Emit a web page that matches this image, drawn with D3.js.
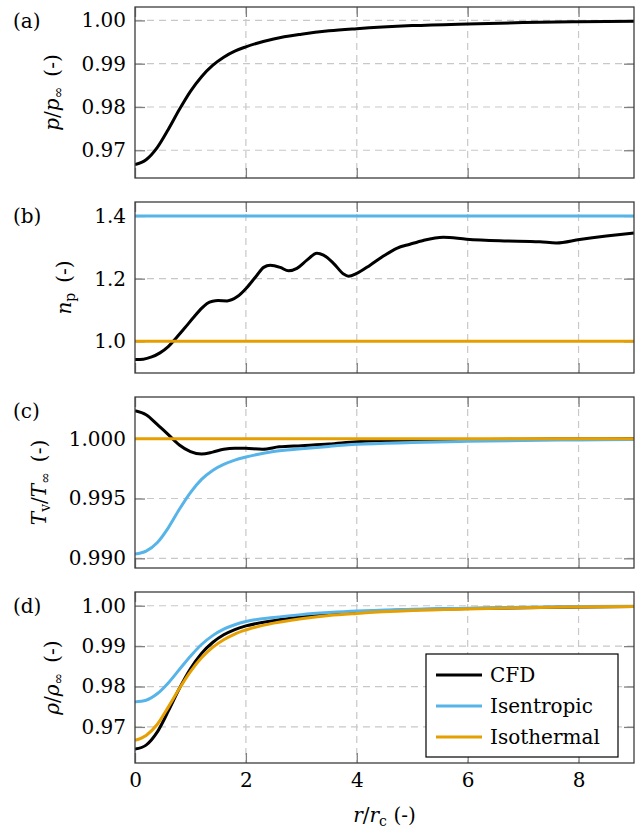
<!DOCTYPE html>
<html>
<head>
<meta charset="utf-8">
<script src="https://cdn.jsdelivr.net/npm/d3@7"></script>
<style>
  body { margin: 0; background: #fff; }
</style>
</head>
<body>
<svg id="chart" width="636" height="830"></svg>
<script>
// Radial positions r/r_c shared by the smooth profiles
const rProfile = [0, 0.2, 0.4, 0.6, 0.8, 1.0, 1.2, 1.4, 1.6, 1.8, 2.0, 2.5, 3.0, 3.5, 4.0, 5.0, 6.0, 7.0, 8.0, 9.0];
const rEnds = [0, 9];

// (a) pressure ratio
const pressureCfd = [0.9667, 0.9678, 0.9706, 0.9748, 0.9794, 0.9836, 0.9870, 0.9896, 0.9915, 0.9929, 0.9939, 0.9957, 0.9968, 0.9976, 0.9981, 0.9988, 0.9992, 0.9995, 0.9997, 0.9998];

// (b) polytropic index
const rPoly = [0, 0.15, 0.3, 0.45, 0.6, 0.75, 0.9, 1.05, 1.2, 1.3, 1.4, 1.5, 1.66, 1.84, 2.02, 2.2, 2.32, 2.44, 2.62, 2.77, 2.92, 3.1, 3.28, 3.4, 3.58, 3.76, 3.85, 4.0, 4.24, 4.48, 4.72, 4.96, 5.2, 5.56, 5.98, 6.58, 7.3, 7.6, 8.02, 8.5, 9.0];
const polyCfd = [0.942, 0.943, 0.950, 0.963, 0.983, 1.012, 1.043, 1.075, 1.105, 1.121, 1.128, 1.130, 1.129, 1.142, 1.172, 1.211, 1.236, 1.243, 1.236, 1.225, 1.233, 1.259, 1.281, 1.275, 1.249, 1.215, 1.208, 1.217, 1.243, 1.272, 1.297, 1.310, 1.322, 1.332, 1.326, 1.321, 1.318, 1.314, 1.325, 1.336, 1.346];
const polyIsentropic = [1.4, 1.4];
const polyIsothermal = [1.0, 1.0];

// (c) temperature ratio
const rTemp = [0, 0.2, 0.4, 0.6, 0.8, 1.0, 1.2, 1.4, 1.6, 1.8, 2.0, 2.3, 2.6, 3.0, 3.5, 4.0, 5.0, 6.0, 7.0, 8.0, 9.0];
const tempCfd = [1.00234, 1.0020, 1.0012, 1.00035, 0.99948, 0.99893, 0.99872, 0.99888, 0.99912, 0.99921, 0.99920, 0.99913, 0.99932, 0.99942, 0.99955, 0.99975, 0.99988, 0.99993, 0.99996, 0.99998, 0.99999];
const tempIsentropic = [0.99036, 0.9906, 0.9913, 0.99255, 0.9941, 0.9955, 0.9966, 0.99735, 0.99785, 0.99821, 0.99847, 0.99893, 0.99916, 0.99936, 0.99953, 0.99968, 0.99978, 0.99985, 0.9999, 0.99993];
const tempIsothermal = [1.0, 1.0];

// (d) density ratio
const densityCfd = [0.9645, 0.9655, 0.9687, 0.9739, 0.9795, 0.9844, 0.9882, 0.9909, 0.9928, 0.9941, 0.9950, 0.9963, 0.9972, 0.9979, 0.9984, 0.9990, 0.9993, 0.9995, 0.9997, 0.9998];
const densityIsentropic = [0.9762, 0.9766, 0.9782, 0.9809, 0.9842, 0.9875, 0.9904, 0.9926, 0.9942, 0.9953, 0.9961, 0.9971, 0.9978, 0.9983, 0.9987, 0.9991, 0.9994, 0.9996, 0.9998, 0.9999];
const densityIsothermal = [0.9667, 0.9679, 0.9706, 0.9749, 0.9795, 0.9837, 0.9871, 0.9897, 0.9916, 0.9930, 0.9940, 0.9957, 0.9968, 0.9976, 0.9981, 0.9988, 0.9992, 0.9995, 0.9997, 0.9998];

// Ticks
const xTicks = [0, 2, 4, 6, 8];
const ticksA = [0.97, 0.98, 0.99, 1.00];
const ticksB = [1.0, 1.2, 1.4];
const ticksC = [0.990, 0.995, 1.000];
const ticksD = [0.97, 0.98, 0.99, 1.00];

const legendLabels = ['CFD', 'Isentropic', 'Isothermal'];

const BLACK = '#000000', BLUE = '#56b4e9', ORANGE = '#e69f00';
const FONT = 20;
const SERIF = "'DejaVu Serif'";

const svg = d3.select('#chart');
const left = 135, right = 634, panelH = 171, panelStep = 195, firstTop = 7;

const x = d3.scaleLinear().domain([0, 9]).range([left, right]);

// Panel setup
const panels = [
  {
    tag: '(a)', domain: [0.96359, 1.0031], ticks: ticksA, fmt: '.2f', labelX: 59,
    label: [{ t: 'p', i: true }, { t: '/' }, { t: 'p', i: true }, { t: '∞', sub: true }, { t: '\u2002(-)' }],
    series: [{ r: rProfile, v: pressureCfd, c: BLACK }]
  },
  {
    tag: '(b)', domain: [0.8988, 1.4447], ticks: ticksB, fmt: '.1f', labelX: 71,
    label: [{ t: 'n', i: true }, { t: 'p', sub: true }, { t: '\u2002(-)' }],
    series: [
      { r: rPoly, v: polyCfd, c: BLACK },
      { r: rEnds, v: polyIsentropic, c: BLUE },
      { r: rEnds, v: polyIsothermal, c: ORANGE }
    ]
  },
  {
    tag: '(c)', domain: [0.98919, 1.00349], ticks: ticksC, fmt: '.3f', labelX: 46,
    label: [{ t: 'T', i: true }, { t: 'v', sub: true }, { t: '/' }, { t: 'T', i: true }, { t: '∞', sub: true }, { t: '\u2002(-)' }],
    series: [
      { r: rTemp, v: tempCfd, c: BLACK },
      { r: rProfile, v: tempIsentropic, c: BLUE },
      { r: rEnds, v: tempIsothermal, c: ORANGE }
    ]
  },
  {
    tag: '(d)', domain: [0.96107, 1.0034], ticks: ticksD, fmt: '.2f', labelX: 59,
    label: [{ t: 'ρ', i: true }, { t: '/' }, { t: 'ρ', i: true }, { t: '∞', sub: true }, { t: '\u2002(-)' }],
    series: [
      { r: rProfile, v: densityCfd, c: BLACK },
      { r: rProfile, v: densityIsentropic, c: BLUE },
      { r: rProfile, v: densityIsothermal, c: ORANGE }
    ]
  }
];

/** Appends a text in the serif face */
function serifText(parent) {
  return parent.append('text')
    .style('font-family', SERIF)
    .attr('font-size', FONT);
}

/** Writes a label made of plain, italic and subscript pieces */
function mathLabel(sel, parts) {
  let shifted = false;
  parts.forEach(part => {
    const ts = sel.append('tspan').text(part.t);
    if (part.i) ts.attr('font-style', 'italic');
    if (part.sub) {
      ts.attr('font-size', FONT * 0.7);
      if (!shifted) { ts.attr('dy', 4); shifted = true; }
    } else if (shifted) {
      ts.attr('dy', -4);
      shifted = false;
    }
  });
}

/** Styles the tick marks and labels of an axis group */
function styleAxis(g) {
  g.select('.domain').remove();
  g.attr('font-family', null).attr('font-size', null);
  g.selectAll('.tick line').attr('stroke', '#808080').attr('stroke-width', 1.3);
  g.selectAll('.tick text')
    .style('font-family', SERIF)
    .attr('font-size', FONT)
    .attr('fill', '#000');
}

panels.forEach((p, i) => {
  const top = firstTop + i * panelStep;
  const bottom = top + panelH;
  const y = d3.scaleLinear().domain(p.domain).range([bottom, top]);
  const g = svg.append('g').attr('class', 'panel');

  // Clip region
  svg.append('clipPath').attr('id', 'clip' + i)
    .append('rect')
    .attr('x', left).attr('y', top)
    .attr('width', right - left).attr('height', panelH);

  // Dashed grid
  g.selectAll('.hgrid')
    .data(p.ticks)
    .enter()
    .append('line')
    .attr('x1', left).attr('x2', right)
    .attr('y1', d => y(d)).attr('y2', d => y(d))
    .attr('stroke', '#c8c8c8').attr('stroke-width', 1.2)
    .attr('stroke-dasharray', '7,5');
  g.selectAll('.vgrid')
    .data(xTicks.filter(t => t > 0))
    .enter()
    .append('line')
    .attr('x1', d => x(d)).attr('x2', d => x(d))
    .attr('y1', top).attr('y2', bottom)
    .attr('stroke', '#c8c8c8').attr('stroke-width', 1.2)
    .attr('stroke-dasharray', '7,5');

  // Inward ticks on all four sides
  g.append('g').attr('transform', `translate(${left},0)`)
    .call(d3.axisLeft(y).tickValues(p.ticks).tickFormat(d3.format(p.fmt)).tickSizeInner(-10).tickSizeOuter(0).tickPadding(9))
    .call(styleAxis);
  g.append('g').attr('transform', `translate(${right},0)`)
    .call(d3.axisRight(y).tickValues(p.ticks).tickFormat('').tickSizeInner(-10).tickSizeOuter(0))
    .call(styleAxis);
  g.append('g').attr('transform', `translate(0,${top})`)
    .call(d3.axisTop(x).tickValues(xTicks).tickFormat('').tickSizeInner(-10).tickSizeOuter(0))
    .call(styleAxis);
  g.append('g').attr('transform', `translate(0,${bottom})`)
    .call(d3.axisBottom(x).tickValues(xTicks).tickFormat(i === 3 ? d3.format('d') : '').tickSizeInner(-10).tickSizeOuter(0).tickPadding(10))
    .call(styleAxis);

  // Curves
  const line = d3.line()
    .x(d => x(d[0]))
    .y(d => y(d[1]))
    .curve(d3.curveMonotoneX);
  g.append('g').attr('clip-path', `url(#clip${i})`)
    .selectAll('path')
    .data(p.series)
    .enter()
    .append('path')
    .attr('d', s => line(d3.zip(s.r, s.v)))
    .attr('fill', 'none')
    .attr('stroke', s => s.c)
    .attr('stroke-width', 3)
    .attr('stroke-linejoin', 'round');

  // Frame
  g.append('rect')
    .attr('x', left).attr('y', top)
    .attr('width', right - left).attr('height', panelH)
    .attr('fill', 'none').attr('stroke', '#3c3c3c').attr('stroke-width', 1.3);

  // Panel tag
  serifText(g)
    .attr('x', 13).attr('y', top + 21)
    .text(p.tag);

  // Y label
  const yl = serifText(g)
    .attr('transform', `translate(${p.labelX},${(top + bottom) / 2}) rotate(-90)`)
    .attr('text-anchor', 'middle');
  mathLabel(yl, p.label);

  // Legend in the last panel
  if (i === 3) {
    const lg = g.append('g');
    lg.append('rect')
      .attr('x', 426).attr('y', 654)
      .attr('width', 192).attr('height', 103)
      .attr('fill', '#fff').attr('stroke', '#000').attr('stroke-width', 1.2);
    const rows = lg.selectAll('.entry')
      .data(p.series)
      .enter()
      .append('g')
      .attr('transform', (s, k) => `translate(436,${675 + k * 31})`);
    rows.append('line')
      .attr('x1', 0).attr('x2', 46)
      .attr('stroke', s => s.c).attr('stroke-width', 3);
    rows.each(function (s, k) {
      serifText(d3.select(this))
        .attr('x', 54).attr('y', 7)
        .text(legendLabels[k]);
    });
  }
});

// X label
const xl = serifText(svg)
  .attr('x', (left + right) / 2).attr('y', 822)
  .attr('text-anchor', 'middle');
mathLabel(xl, [{ t: 'r', i: true }, { t: '/' }, { t: 'r', i: true }, { t: 'c', sub: true }, { t: '\u2004(-)' }]);
</script>
</body>
</html>
